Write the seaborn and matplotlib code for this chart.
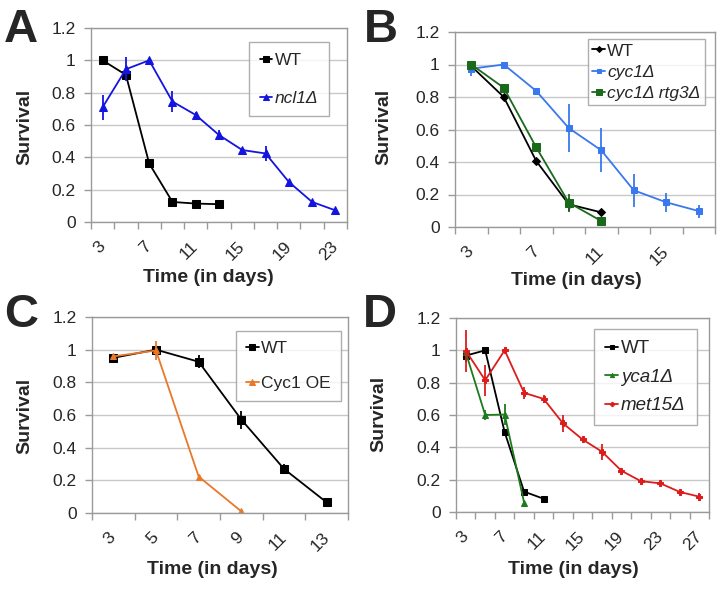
import matplotlib
matplotlib.use("Agg")
import matplotlib.pyplot as plt
import seaborn as sns

# Panel A
a_days_wt = [3, 5, 7, 9, 11, 13]
a_wt = [1.0, 0.91, 0.362, 0.124, 0.114, 0.11]
a_wt_err = [0.0, 0.03, 0.03, 0.01, 0.01, 0.005]
a_days_ncl1 = [3, 5, 7, 9, 11, 13, 15, 17, 19, 21, 23]
a_ncl1 = [0.71, 0.945, 1.0, 0.745, 0.662, 0.538, 0.445, 0.424, 0.248, 0.124, 0.072]
a_ncl1_err = [0.078, 0.075, 0.0, 0.065, 0.02, 0.03, 0.015, 0.045, 0.01, 0.01, 0.01]

# Panel B
b_days_wt = [3, 5, 7, 9, 11]
b_wt = [0.99, 0.80, 0.406, 0.14, 0.09]
b_wt_err = [0.01, 0.01, 0.01, 0.04, 0.01]
b_days_cyc1 = [3, 5, 7, 9, 11, 13, 15, 17]
b_cyc1 = [0.974, 1.0, 0.837, 0.609, 0.472, 0.226, 0.152, 0.098]
b_cyc1_err = [0.045, 0.0, 0.01, 0.145, 0.135, 0.10, 0.06, 0.04]
b_days_rtg3 = [3, 5, 7, 9, 11]
b_rtg3 = [1.0, 0.857, 0.49, 0.15, 0.037]
b_rtg3_err = [0.01, 0.01, 0.01, 0.055, 0.005]

# Panel C
c_days_wt = [3, 5, 7, 9, 11, 13]
c_wt = [0.95, 1.0, 0.926, 0.572, 0.27, 0.065]
c_wt_err = [0.01, 0.01, 0.04, 0.055, 0.03, 0.005]
c_days_oe = [3, 5, 7, 9]
c_oe = [0.959, 0.995, 0.223, 0.01]
c_oe_err = [0.01, 0.06, 0.005, 0.005]

# Panel D
d_days_wt = [3, 5, 7, 9, 11]
d_wt = [0.967, 1.0, 0.494, 0.126, 0.082]
d_wt_err = [0.04, 0.005, 0.01, 0.01, 0.005]
d_days_yca1 = [3, 5, 7, 9]
d_yca1 = [0.988, 0.60, 0.603, 0.058]
d_yca1_err = [0.01, 0.03, 0.065, 0.005]
d_days_met15 = [3, 5, 7, 9, 11, 13, 15, 17, 19, 21, 23, 25, 27]
d_met15 = [0.998, 0.815, 1.0, 0.737, 0.70, 0.548, 0.449, 0.373, 0.255, 0.191, 0.177, 0.124, 0.095]
d_met15_err = [0.13, 0.095, 0.005, 0.035, 0.025, 0.055, 0.015, 0.05, 0.015, 0.005, 0.015, 0.01, 0.02]

GRID = "#c8c8c8"
FRAME = "#9a9a9a"

sns.set_style("white")
plt.rcParams["font.family"] = ["Liberation Sans", "DejaVu Sans"]

fig = plt.figure(figsize=(7.18, 5.92), dpi=100)


def px_axes(left, right, top, bottom):
    return fig.add_axes([left / 718, 1 - bottom / 592, (right - left) / 718, (bottom - top) / 592])


def draw_series(ax, days, vals, errs, color, marker, ms, label):
    sns.lineplot(x=days, y=vals, ax=ax, color=color, marker=marker, markersize=ms,
                 markeredgecolor=color, markerfacecolor=color, linewidth=1.3, label=label)
    ax.errorbar(days, vals, yerr=errs, fmt="none", ecolor=color, elinewidth=1.3, capsize=0)


def style_axes(ax, xmax, labels, xlab_pos, ylab_pos):
    ax.set_xlim(2, xmax)
    ax.set_ylim(0, 1.2)
    ax.set_yticks([0, 0.2, 0.4, 0.6, 0.8, 1.0, 1.2])
    ax.set_yticklabels(["0", "0.2", "0.4", "0.6", "0.8", "1", "1.2"], fontsize=12.5)
    ax.yaxis.grid(True, color=GRID, linewidth=1)
    ax.set_axisbelow(True)
    for sp in ax.spines.values():
        sp.set_color(FRAME)
        sp.set_linewidth(1)
    # boundaries between categories get the tick marks
    ax.set_xticks(list(range(2, xmax + 1, 2)))
    ax.set_xticklabels([])
    ax.set_xticks(labels, minor=True)
    ax.set_xticklabels([str(v) for v in labels], minor=True, rotation=45,
                       ha="right", va="center", rotation_mode="anchor", fontsize=12.5)
    ax.tick_params(axis="x", which="major", direction="out", length=5, color=FRAME, width=1, bottom=True)
    ax.tick_params(axis="x", which="minor", length=0, pad=16)
    ax.tick_params(axis="y", direction="out", length=5, color=FRAME, width=1, left=True, pad=6)
    ax.set_xlabel("Time (in days)", fontsize=14, fontweight="bold")
    ax.set_ylabel("Survival", fontsize=14, fontweight="bold")
    ax.xaxis.set_label_coords(*xlab_pos)
    ax.xaxis.label.set_va("center")
    ax.yaxis.set_label_coords(*ylab_pos)
    ax.yaxis.label.set_va("center")


def style_legend(ax, anchor, spacing, italics, pad=0.5, size=12.5):
    leg = ax.legend(loc="upper left", bbox_to_anchor=anchor, fontsize=size, frameon=True,
                    fancybox=False, edgecolor=FRAME, handlelength=0.7, handletextpad=0.15,
                    labelspacing=spacing, borderpad=pad, borderaxespad=0, markerscale=0.75)
    leg.get_frame().set_linewidth(1)
    for txt, it in zip(leg.get_texts(), italics):
        if it:
            txt.set_style("italic")


# A
axA = px_axes(91, 347, 28, 222)
draw_series(axA, a_days_wt, a_wt, a_wt_err, "black", "s", 6, "WT")
draw_series(axA, a_days_ncl1, a_ncl1, a_ncl1_err, "#1414e0", "^", 5.5, "ncl1\u0394")
style_axes(axA, 24, [3, 7, 11, 15, 19, 23], (0.457, -0.284), (-0.258, 0.49))
style_legend(axA, (0.617, 0.928), 1.3, [False, True], pad=0.62)

# B
axB = px_axes(455, 715, 32, 227)
draw_series(axB, b_days_wt, b_wt, b_wt_err, "black", "D", 4, "WT")
draw_series(axB, b_days_cyc1, b_cyc1, b_cyc1_err, "#3a78ee", "s", 4.5, "cyc1\u0394")
draw_series(axB, b_days_rtg3, b_rtg3, b_rtg3_err, "#1b6a1b", "s", 6, "cyc1\u0394 rtg3\u0394")
style_axes(axB, 18, [3, 7, 11, 15], (0.465, -0.272), (-0.273, 0.513))
style_legend(axB, (0.512, 0.964), 0.35, [False, True, True], pad=0.25)

# C
axC = px_axes(92, 348, 317, 513)
draw_series(axC, c_days_wt, c_wt, c_wt_err, "black", "s", 6, "WT")
draw_series(axC, c_days_oe, c_oe, c_oe_err, "#e8782a", "^", 5, "Cyc1 OE")
style_axes(axC, 14, [3, 5, 7, 9, 11, 13], (0.469, -0.286), (-0.262, 0.495))
style_legend(axC, (0.5625, 0.929), 1.1, [False, False], pad=0.6)

# D
axD = px_axes(456, 709, 318, 512)
draw_series(axD, d_days_wt, d_wt, d_wt_err, "black", "s", 4.5, "WT")
draw_series(axD, d_days_yca1, d_yca1, d_yca1_err, "#1d7a1d", "^", 4, "yca1\u0394")
draw_series(axD, d_days_met15, d_met15, d_met15_err, "#dd1c1c", "P", 4, "met15\u0394")
style_axes(axD, 28, [3, 7, 11, 15, 19, 23, 27], (0.462, -0.294), (-0.304, 0.505))
style_legend(axD, (0.545, 0.943), 0.6, [False, True, True], pad=0.6, size=13.5)

# panel letters
for letter, x, y in [("A", 4, 42), ("B", 364, 42), ("C", 4, 327), ("D", 363, 327)]:
    fig.text(x / 718, 1 - y / 592, letter, fontsize=34, fontweight="bold", ha="left", va="baseline")

fig.savefig("out.png", dpi=100)
